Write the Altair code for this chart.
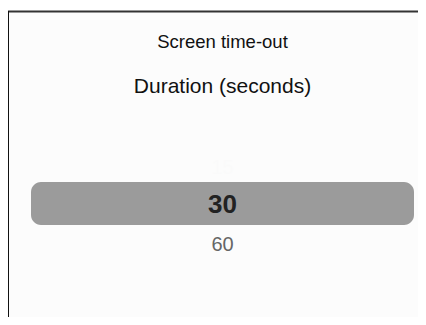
import altair as alt
import pandas as pd

title_text = ["Screen time-out"]
subtitle_text = ["Duration (seconds)"]
items = ["15", "30", "60"]
selected = ["30"]
item_opacity = [0.004, 1.0, 1.0]

items_df = pd.DataFrame({"item": items, "opacity": item_opacity,
                         "sel": [i in selected for i in items]})
one = pd.DataFrame({"k": [0]})
FONT = "Liberation Sans"

ysc = alt.Scale(type="point", domain=items, range=[166, 243], padding=0)

bg = alt.Chart(one).mark_rect(fill="#fcfcfc").encode(
    x=alt.value(1), x2=alt.value(410), y=alt.value(4), y2=alt.value(309))
top_line = alt.Chart(one).mark_rule(color="#333333", strokeWidth=2).encode(
    x=alt.value(0), x2=alt.value(410), y=alt.value(3.5))
left_line = alt.Chart(one).mark_rule(color="#111111", strokeWidth=2).encode(
    x=alt.value(0), y=alt.value(3), y2=alt.value(309))

t1 = alt.Chart(pd.DataFrame({"t": title_text})).mark_text(
    font=FONT, fontSize=18.5, color="#111111", baseline="alphabetic", align="center"
).encode(text="t:N", x=alt.value(214.5), y=alt.value(39.5))
t2 = alt.Chart(pd.DataFrame({"t": subtitle_text})).mark_text(
    font=FONT, fontSize=21, color="#111111", baseline="alphabetic", align="center"
).encode(text="t:N", x=alt.value(214.5), y=alt.value(85))

sel_rect = alt.Chart(one).mark_rect(fill="#9b9b9b", cornerRadius=10).encode(
    x=alt.value(23), x2=alt.value(406), y=alt.value(174), y2=alt.value(217))

sel_text = alt.Chart(items_df).transform_filter("datum.sel").mark_text(
    font=FONT, fontSize=26, fontWeight="bold", color="#222222", baseline="alphabetic", align="center"
).encode(text="item:N", x=alt.value(214.5), y=alt.Y("item:N", scale=ysc, axis=None))
other_text = alt.Chart(items_df).transform_filter("!datum.sel").mark_text(
    font=FONT, fontSize=20, color="#666666", baseline="alphabetic", align="center"
).encode(text="item:N", x=alt.value(214.5), y=alt.Y("item:N", scale=ysc, axis=None),
         opacity=alt.Opacity("opacity:Q", scale=None, legend=None))

chart = alt.layer(bg, top_line, left_line, t1, t2, sel_rect, sel_text, other_text).properties(
    width=410, height=309, padding=0, autosize=alt.AutoSizeParams(type="none"),
    background="white"
).configure_view(stroke=None)

chart.save("out.html", embed_options={"renderer": "svg", "actions": False})
